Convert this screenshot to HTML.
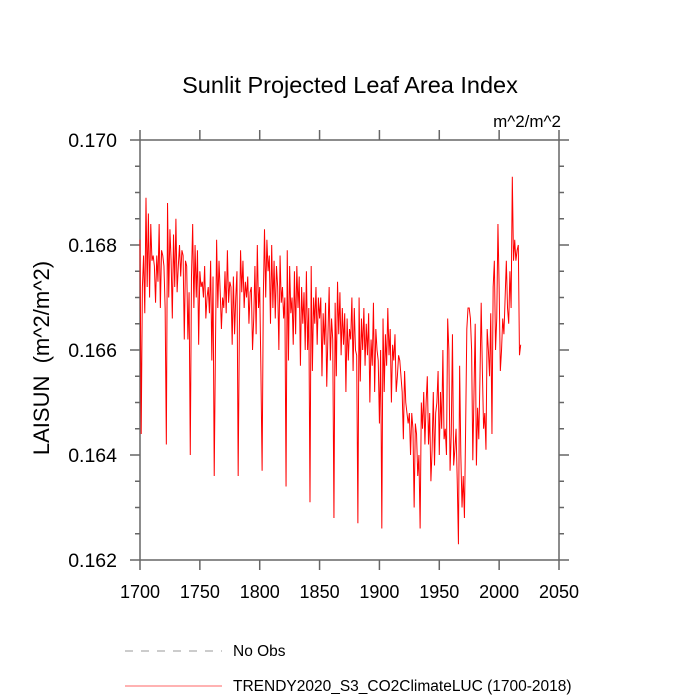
<!DOCTYPE html>
<html><head><meta charset="utf-8"><style>
html,body{margin:0;padding:0;background:#fff;}
svg{display:block;font-family:"Liberation Sans",sans-serif;}
</style></head><body>
<svg id="chart" width="700" height="700" viewBox="0 0 700 700" xmlns="http://www.w3.org/2000/svg">
<text x="350" y="93" font-size="23.5" text-anchor="middle">Sunlit Projected Leaf Area Index</text>
<text x="561" y="127" font-size="17" text-anchor="end">m^2/m^2</text>
<text transform="translate(49,358) rotate(-90)" font-size="22" text-anchor="middle" xml:space="preserve">LAISUN  (m^2/m^2)</text>
<g id="axes"></g>
<path id="series" fill="none" stroke="#ff0000" stroke-width="1"/>
<line x1="125" y1="651" x2="222" y2="651" stroke="#999" stroke-dasharray="8,8"/>
<text x="233" y="656" font-size="15.5">No Obs</text>
<line x1="125" y1="686" x2="222" y2="686" stroke="#ff6666" stroke-width="1"/>
<text x="233" y="691" font-size="15.5">TRENDY2020_S3_CO2ClimateLUC (1700-2018)</text>
</svg>
<script>
const startYear = 1700;
const values = [
.1681,.1644,.1672,.1678,.1667,.1689,.1672,.1686,.1670,.1684,
.1677,.1678,.1676,.1669,.1678,.1673,.1684,.1668,.1679,.1678,
.1676,.1668,.1642,.1688,.1670,.1683,.1677,.1666,.1682,.1672,
.1685,.1671,.1676,.1680,.1674,.1679,.1678,.1662,.1677,.1676,
.1662,.1671,.1640,.1674,.1684,.1668,.1680,.1670,.1679,.1661,
.1675,.1672,.1673,.1670,.1676,.1666,.1670,.1672,.1667,.1677,
.1658,.1674,.1636,.1660,.1681,.1668,.1677,.1671,.1664,.1670,
.1668,.1675,.1667,.1679,.1669,.1673,.1672,.1661,.1674,.1663,
.1670,.1675,.1636,.1664,.1679,.1671,.1677,.1668,.1673,.1670,
.1674,.1665,.1671,.1672,.1660,.1666,.1676,.1663,.1680,.1668,
.1672,.1656,.1637,.1670,.1683,.1670,.1681,.1675,.1678,.1665,
.1680,.1668,.1677,.1666,.1676,.1672,.1660,.1678,.1669,.1672,
.1666,.1670,.1634,.1679,.1658,.1676,.1667,.1670,.1661,.1675,
.1663,.1676,.1668,.1674,.1657,.1672,.1665,.1671,.1660,.1675,
.1660,.1668,.1631,.1676,.1656,.1670,.1665,.1672,.1661,.1670,
.1666,.1670,.1655,.1667,.1661,.1669,.1653,.1663,.1672,.1658,
.1666,.1662,.1628,.1669,.1655,.1673,.1663,.1671,.1659,.1668,
.1661,.1667,.1652,.1666,.1658,.1664,.1662,.1670,.1656,.1668,
.1660,.1659,.1627,.1670,.1654,.1666,.1660,.1668,.1657,.1665,
.1659,.1667,.1650,.1662,.1657,.1669,.1652,.1664,.1660,.1658,
.1646,.1660,.1626,.1666,.1652,.1663,.1657,.1668,.1659,.1664,
.1650,.1661,.1658,.1663,.1652,.1655,.1659,.1658,.1655,.1652,
.1643,.1656,.1650,.1648,.1646,.1648,.1640,.1648,.1645,.1630,
.1646,.1644,.1636,.1640,.1626,.1650,.1645,.1652,.1642,.1650,
.1655,.1642,.1648,.1635,.1641,.1652,.1638,.1648,.1650,.1656,
.1640,.1652,.1645,.1660,.1643,.1645,.1640,.1666,.1660,.1637,
.1644,.1663,.1638,.1641,.1645,.1635,.1623,.1657,.1640,.1630,
.1636,.1628,.1645,.1664,.1668,.1668,.1666,.1660,.1639,.1652,
.1665,.1638,.1649,.1643,.1655,.1669,.1656,.1645,.1648,.1641,
.1664,.1660,.1655,.1667,.1644,.1672,.1677,.1660,.1666,.1684,
.1672,.1656,.1660,.1666,.1663,.1670,.1677,.1668,.1665,.1675,
.1668,.1693,.1677,.1681,.1677,.1679,.1680,.1659,.1661
];
const xTicks = [1700,1750,1800,1850,1900,1950,2000,2050];
const yTicks = [0.162,0.164,0.166,0.168,0.170];
const yTickLabels = ["0.162","0.164","0.166","0.168","0.170"];

const X0=140,X1=559,Y0=560,Y1=140;
const xMin=1700,xMax=2050,yMin=0.162,yMax=0.170;
function xs(v){return X0+(v-xMin)/(xMax-xMin)*(X1-X0);}
function ys(v){return Y0-(v-yMin)/(yMax-yMin)*(Y0-Y1);}
const NS="http://www.w3.org/2000/svg";
const axes=document.getElementById('axes');
function ln(x1,y1,x2,y2,name){
  const l=document.createElementNS(NS,'line');
  l.setAttribute('x1',x1);l.setAttribute('y1',y1);l.setAttribute('x2',x2);l.setAttribute('y2',y2);
  l.setAttribute('stroke','#666');l.setAttribute('stroke-width','1.5');
  
  
  axes.appendChild(l);
}
ln(X0,Y1,X1,Y1,'plot-frame-top');ln(X0,Y0,X1,Y0,'plot-frame-bottom');
ln(X0,Y1,X0,Y0,'plot-frame-left');ln(X1,Y1,X1,Y0,'plot-frame-right');
xTicks.forEach(t=>{
  const x=xs(t);
  ln(x,Y0,x,Y0+10,'x-tick');
  ln(x,Y1,x,Y1-10,'x-tick-top');
  const tx=document.createElementNS(NS,'text');
  tx.setAttribute('x',x);tx.setAttribute('y',Y0+38);
  tx.setAttribute('font-size','18');tx.setAttribute('text-anchor','middle');
  tx.textContent=t;
  
  
  axes.appendChild(tx);
});
for(let v=yMin;v<=yMax+1e-9;v+=0.0005){
  const y=ys(v);
  const major=Math.abs(Math.round(v*500)-v*500)<1e-6;
  ln(X0-(major?10:5),y,X0,y,'y-tick');
  ln(X1,y,X1+(major?10:5),y,'y-tick-right');
}
yTicks.forEach((t,i)=>{
  const tx=document.createElementNS(NS,'text');
  tx.setAttribute('x',117);tx.setAttribute('y',ys(t)+7);
  tx.setAttribute('font-size','19.5');tx.setAttribute('text-anchor','end');
  tx.textContent=yTickLabels[i];
  
  
  axes.appendChild(tx);
});
let d='';
values.forEach((v,i)=>{d+=(i?'L':'M')+xs(startYear+i).toFixed(2)+','+ys(v).toFixed(2);});
document.getElementById('series').setAttribute('d',d);
</script>
</body></html>
